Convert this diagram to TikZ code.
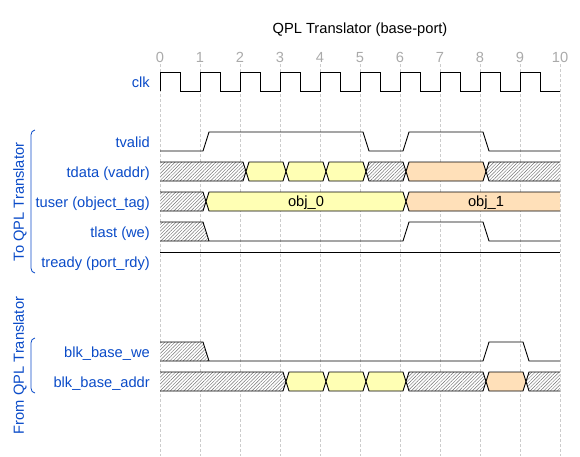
\documentclass[tikz,border=0pt]{standalone}
\usepackage{fontspec}
\setmainfont{Liberation Sans}
\usetikzlibrary{positioning, patterns.meta}

\definecolor{lblblue}{HTML}{0A4BC8}
\definecolor{gridgray}{HTML}{CCCCCC}
\definecolor{tickgray}{HTML}{AAAAAA}
\definecolor{busyel}{HTML}{FFFFB4}
\definecolor{busorg}{HTML}{FFE0B9}

\tikzset{
  lbl/.style={anchor=base east, inner sep=0pt, text=lblblue},
  ticknum/.style={anchor=base, inner sep=0pt, text=tickgray},
  grp/.style={rotate=90, inner sep=0pt, text=lblblue},
  brace/.style={draw=lblblue, line width=0.8pt},
  gridline/.style={draw=gridgray, line width=0.6pt, dash pattern=on 2.5pt off 2.5pt},
  wave/.style={draw=black, line width=0.9pt},
  hatch/.style={preaction={fill=white}, pattern={Lines[angle=45, distance=2.4pt, line width=0.45pt]}, pattern color=black!55},
  yel/.style={fill=busyel},
  org/.style={fill=busorg}
}

\begin{document}
\begin{tikzpicture}[x=1pt, y=-1pt, font=\fontsize{14.67}{17}\selectfont]
			\useasboundingbox (0,0) rectangle (580,456);
			
			% grid and cycle numbers
			\foreach \k in {0,...,10}
				\draw[gridline] ({160+40*\k},64) -- ({160+40*\k},456);
			\foreach \k in {0,...,10}
				\node[ticknum] (t\k) at ({160+40*\k},62) {\k};
			
			\node[anchor=base, inner sep=0pt] (title) at (360,33) {QPL Translator (base-port)};
			
			% signal names
			\node[lbl] (clk)    at (150,87)  {clk};
			\node[lbl] (tvalid) at (150,147) {tvalid};
			\node[lbl] (tdata)  at (150,177) {tdata (vaddr)};
			\node[lbl] (tuser)  at (150,207) {tuser (object\_tag)};
			\node[lbl] (tlast)  at (150,237) {tlast (we)};
			\node[lbl] (tready) at (150,267) {tready (port\_rdy)};
			\node[lbl] (we)     at (150,357) {blk\_base\_we};
			\node[lbl] (addr)   at (150,387) {blk\_base\_addr};
			
			% groups
			\node[grp] (togrp)   at (20,202)   {To QPL Translator};
			\node[grp] (fromgrp) at (20,365.5) {From QPL Translator};
			\draw[brace] (35,130) to[out=180, in=90] (31,135) -- (31,268) to[out=-90, in=180] (35,273);
			\draw[brace] (35,338) to[out=180, in=90] (31,343) -- (31,388) to[out=-90, in=180] (35,393);
			
			% clk
			\draw[wave] (160,91) \foreach \k in {0,...,9} { -- ({160+40*\k},72) -- ({180+40*\k},72) -- ({180+40*\k},91) -- ({200+40*\k},91) };
			
			% tvalid, tready
			\draw[wave] (160,151) -- (203,151) -- (209,132) -- (363,132) -- (369,151) -- (403,151) -- (409,132) -- (483,132) -- (489,151) -- (560,151);
			\draw[wave] (160,252) -- (560,252);
			
			% tlast
			\path[hatch] (160,222) -- (203,222) -- (209,241) -- (160,241) -- cycle;
			\draw[wave] (160,222) -- (203,222) -- (209,241);
			\draw[wave] (160,241) -- (403,241) -- (409,222) -- (483,222) -- (489,241) -- (560,241);
			
			% blk_base_we
			\path[hatch] (160,342) -- (203,342) -- (209,361) -- (160,361) -- cycle;
			\draw[wave] (160,342) -- (203,342) -- (209,361);
			\draw[wave] (160,361) -- (483,361) -- (489,342) -- (523,342) -- (529,361) -- (560,361);
			
			% buses
			\begin{scope}
				\clip (160,0) rectangle (560,456);
				\foreach \a/\b/\s in {-1/2/hatch, 2/3/yel, 3/4/yel, 4/5/yel, 5/6/hatch, 6/8/org, 8/11/hatch}
					\draw[wave, \s] ({166+40*\a},171.5) -- ({169+40*\a},162) -- ({163+40*\b},162) -- ({166+40*\b},171.5) -- ({163+40*\b},181) -- ({169+40*\a},181) -- cycle;
				\foreach \a/\b/\s in {-1/1/hatch, 1/6/yel, 6/11/org}
					\draw[wave, \s] ({166+40*\a},201.5) -- ({169+40*\a},192) -- ({163+40*\b},192) -- ({166+40*\b},201.5) -- ({163+40*\b},211) -- ({169+40*\a},211) -- cycle;
				\foreach \a/\b/\s in {-1/3/hatch, 3/4/yel, 4/5/yel, 5/6/yel, 6/8/hatch, 8/9/org, 9/11/hatch}
					\draw[wave, \s] ({166+40*\a},381.5) -- ({169+40*\a},372) -- ({163+40*\b},372) -- ({166+40*\b},381.5) -- ({163+40*\b},391) -- ({169+40*\a},391) -- cycle;
			\end{scope}
			\node[anchor=base, inner sep=0pt] (obj0) at (306,206) {obj\_0};
			\node[anchor=base, inner sep=0pt] (obj1) at (486,206) {obj\_1};
		\end{tikzpicture}
\end{document}
